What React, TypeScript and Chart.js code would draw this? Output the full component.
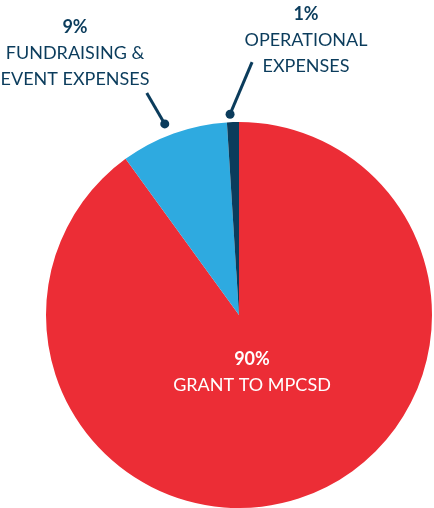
import React, { useEffect, useRef } from "react";
import { Chart, registerables } from "chart.js";

Chart.register(...registerables);

const categories = ["GRANT TO MPCSD", "FUNDRAISING & EVENT EXPENSES", "OPERATIONAL EXPENSES"];
const values = [90, 9, 1];
const percentLabels = ["90%", "9%", "1%"];
const labelLines = [["GRANT TO MPCSD"], ["FUNDRAISING &", "EVENT EXPENSES"], ["OPERATIONAL", "EXPENSES"]];
const colors = ["#EC2D36", "#2EAAE0", "#0B3C5C"];

const NAVY = "#0B3C5C";
const FONT = "Lato, 'Noto Sans', sans-serif";

// label anchor (center x, baseline of percent) per slice
const labelAnchors = [
  { x: 252, y: 365, color: "#FFFFFF" },
  { x: 75, y: 33, color: NAVY },
  { x: 306, y: 20, color: NAVY },
];
// leader line vectors (from dot to end) for small slices
const leaders: ({ dx: number; dy: number; r: number; da: number } | null)[] = [
  null,
  { dx: -18, dy: -31, r: 12, da: -0.025 },
  { dx: 22, dy: -52, r: 8, da: -0.013 },
];

const labelPlugin = {
  id: "customLabels",
  afterDraw(chart: any) {
    const ctx = chart.ctx;
    const meta = chart.getDatasetMeta(0);
    ctx.save();
    meta.data.forEach((arc: any, i: number) => {
      const p = arc.getProps(["x", "y", "startAngle", "endAngle", "outerRadius"], true);
      const lead = leaders[i];
      if (lead) {
        const mid = (p.startAngle + p.endAngle) / 2 + lead.da;
        const r = p.outerRadius + lead.r;
        const dx = p.x + Math.cos(mid) * r;
        const dy = p.y + Math.sin(mid) * r;
        ctx.strokeStyle = NAVY;
        ctx.lineWidth = 3;
        ctx.beginPath();
        ctx.moveTo(dx, dy);
        ctx.lineTo(dx + lead.dx, dy + lead.dy);
        ctx.stroke();
        ctx.fillStyle = NAVY;
        ctx.beginPath();
        ctx.arc(dx, dy, 4.5, 0, Math.PI * 2);
        ctx.fill();
      }
      const a = labelAnchors[i];
      ctx.fillStyle = a.color;
      ctx.textAlign = "center";
      ctx.textBaseline = "alphabetic";
      ctx.font = `bold 18px ${FONT}`;
      ctx.fillText(percentLabels[i], a.x, a.y);
      ctx.font = `18px ${FONT}`;
      labelLines[i].forEach((line, j) => {
        ctx.fillText(line, a.x, a.y + 26 + j * 26);
      });
    });
    ctx.restore();
  },
};

export default function App() {
  const ref = useRef<HTMLCanvasElement | null>(null);
  useEffect(() => {
    document.body.style.margin = "0";
    document.body.style.overflow = "hidden";
    const chart = new Chart(ref.current as HTMLCanvasElement, {
      type: "pie",
      data: {
        labels: categories,
        datasets: [
          {
            data: values,
            backgroundColor: colors,
            borderWidth: 0,
            hoverBorderWidth: 0,
            hoverOffset: 0,
            offset: 0,
          },
        ],
      },
      options: {
        responsive: false,
        animation: false,
        layout: { padding: { left: 46, right: 2, top: 122, bottom: 0 } },
        plugins: { legend: { display: false }, tooltip: { enabled: false } },
        events: [],
      },
      plugins: [labelPlugin],
    });
    return () => chart.destroy();
  }, []);
  return (
    <div style={{ width: 434, height: 508, background: "#fff" }}>
      <canvas ref={ref} width={434} height={508} />
    </div>
  );
}
